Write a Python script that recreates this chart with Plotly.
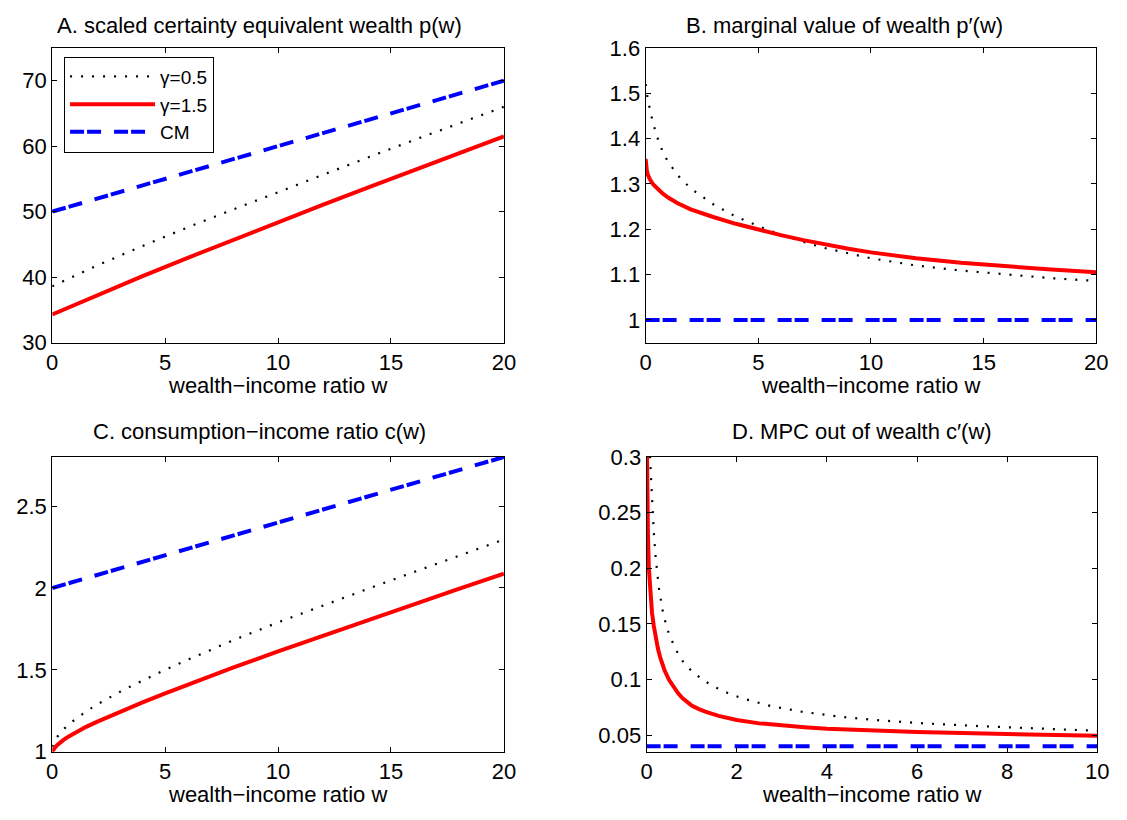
import plotly.graph_objects as go

# ---------------- data ----------------
# Panel A: scaled certainty equivalent wealth p(w)
wA = [0, 2, 4, 6, 8, 10, 12, 14, 16, 18, 20]
pA_g05 = [38.6, 41.8, 44.75, 47.6, 50.3, 53.0, 55.7, 58.3, 60.9, 63.4, 66.0]
pA_g15 = [34.3, 37.3, 40.15, 42.95, 45.7, 48.4, 51.05, 53.7, 56.3, 58.9, 61.5]
wA_cm = [0, 20]
pA_cm = [50, 70]

# Panel B: marginal value of wealth p'(w)
wB_g05 = [0, 0.1, 0.3, 0.5, 0.75, 1.0, 1.5, 2.0, 3.0, 4.0, 5, 6, 7, 8, 10, 12, 14, 16, 18, 20]
pB_g05 = [1.52, 1.485, 1.44, 1.405, 1.372, 1.348, 1.315, 1.29, 1.255, 1.228, 1.207,
          1.188, 1.172, 1.158, 1.136, 1.12, 1.109, 1.10, 1.092, 1.086]
wB_g15 = [0, 0.01, 0.03, 0.06, 0.1, 0.2, 0.35, 0.5, 0.75, 1.0, 1.4, 2.0, 2.5, 3.0, 4.0,
          5, 6, 7, 8, 9, 10, 12, 14, 16, 18, 20]
pB_g15 = [1.355, 1.345, 1.335, 1.327, 1.32, 1.309, 1.298, 1.29, 1.279, 1.27, 1.258, 1.244,
          1.235, 1.227, 1.212, 1.199, 1.187, 1.176, 1.166, 1.157, 1.149, 1.136, 1.126,
          1.118, 1.111, 1.105]
wB_cm = [0, 20]
pB_cm = [1.0, 1.0]

# Panel C: consumption-income ratio c(w)
wC_g05 = [0, 0.1, 0.2, 0.35, 0.5, 0.78, 1, 1.5, 2, 2.6, 3, 3.6, 4, 4.8, 5.8, 7, 8, 10,
          12, 14, 16, 18, 20]
cC_g05 = [1.03, 1.06, 1.087, 1.114, 1.137, 1.173, 1.197, 1.246, 1.29, 1.337, 1.366, 1.408,
          1.435, 1.487, 1.55, 1.622, 1.68, 1.79, 1.894, 1.996, 2.097, 2.197, 2.296]
wC_g15 = [0, 0.02, 0.05, 0.1, 0.2, 0.3, 0.5, 0.75, 1, 1.5, 2, 3, 4, 5, 6, 8, 10, 12, 14,
          16, 18, 20]
cC_g15 = [1.0, 1.006, 1.013, 1.022, 1.038, 1.05, 1.072, 1.095, 1.115, 1.152, 1.184, 1.244,
          1.301, 1.356, 1.409, 1.513, 1.613, 1.71, 1.806, 1.901, 1.995, 2.088]
wC_cm = [0, 20]
cC_cm = [2.0, 2.8]

# Panel D: MPC out of wealth c'(w)
wD_g05 = [0, 0.06, 0.09, 0.12, 0.16, 0.2, 0.27, 0.35, 0.45, 0.63, 0.8, 1.0, 1.25, 1.5,
          1.8, 2.1, 2.74, 3.47, 4.35, 5.2, 6.16, 7.4, 8.6, 10]
dD_g05 = [0.36, 0.31, 0.29, 0.26, 0.232, 0.21, 0.183, 0.163, 0.146, 0.128, 0.1165, 0.1075,
          0.0995, 0.0935, 0.0878, 0.0833, 0.0762, 0.0708, 0.0662, 0.0631, 0.0605, 0.058,
          0.0559, 0.0538]
wD_g15 = [0, 0.01, 0.02, 0.03, 0.05, 0.08, 0.12, 0.16, 0.2, 0.25, 0.3, 0.4, 0.5, 0.6, 0.7,
          0.8, 0.9, 1.0, 1.15, 1.3, 1.6, 2.0, 2.5, 3.0, 3.5, 4, 5, 6, 7, 8, 9, 10]
dD_g15 = [0.33, 0.28, 0.25, 0.23, 0.20, 0.177, 0.16, 0.148, 0.138, 0.128, 0.12, 0.108,
          0.0995, 0.093, 0.0875, 0.083, 0.0795, 0.0765, 0.0735, 0.071, 0.0672, 0.0635,
          0.0605, 0.0585, 0.057, 0.0557, 0.054, 0.0528, 0.0518, 0.0508, 0.05, 0.0493]
wD_cm = [0, 10]
dD_cm = [0.04, 0.04]

labels = ["γ=0.5", "γ=1.5", "CM"]
titles = ["A. scaled certainty equivalent wealth p(w)",
          "B. marginal value of wealth p′(w)",
          "C. consumption−income ratio c(w)",
          "D. MPC out of wealth c′(w)"]
xlabel = "wealth−income ratio w"

# ---------------- geometry ----------------
W, H = 1127, 820


def fx(X):
    return X / W


def fy(Y):
    return 1 - Y / H


FONT = "Liberation Sans, Arial, Helvetica, sans-serif"
sty_g05 = dict(color="black", width=2.2, dash="2px,9px")
sty_g15 = dict(color="#ff0000", width=4)
sty_cm = dict(color="#0000ff", width=4, dash="14px,3px,14px,13px")

fig = go.Figure()
panels = [
    ("x", "y", wA, pA_g05, wA, pA_g15, wA_cm, pA_cm),
    ("x2", "y2", wB_g05, pB_g05, wB_g15, pB_g15, wB_cm, pB_cm),
    ("x3", "y3", wC_g05, cC_g05, wC_g15, cC_g15, wC_cm, cC_cm),
    ("x4", "y4", wD_g05, dD_g05, wD_g15, dD_g15, wD_cm, dD_cm),
]
for i, (xa, ya, x1, y1, x2, y2, x3, y3) in enumerate(panels):
    show = i == 0
    fig.add_trace(go.Scatter(x=x1, y=y1, mode="lines", line=sty_g05, name=labels[0],
                             showlegend=show, xaxis=xa, yaxis=ya))
    fig.add_trace(go.Scatter(x=x2, y=y2, mode="lines", line=sty_g15, name=labels[1],
                             showlegend=show, xaxis=xa, yaxis=ya))
    fig.add_trace(go.Scatter(x=x3, y=y3, mode="lines", line=sty_cm, name=labels[2],
                             showlegend=show, xaxis=xa, yaxis=ya))

ax_common = dict(showline=True, linecolor="black", linewidth=1, mirror="allticks",
                 ticks="inside", ticklen=5, tickcolor="black", tickwidth=1,
                 showgrid=False, zeroline=False,
                 tickfont=dict(family=FONT, size=22, color="black"))

left_x = [fx(47), fx(506)]
right_x = [fx(650), fx(1108)]
top_y = [fy(341), fy(37)]
bot_y = [fy(763), fy(459)]

fig.update_layout(
    width=W, height=H, autosize=False,
    margin=dict(l=0, r=0, t=0, b=0),
    paper_bgcolor="white", plot_bgcolor="white",
    font=dict(family=FONT, size=22, color="black"),
    xaxis=dict(domain=left_x, anchor="y", range=[0, 20], tickvals=[0, 5, 10, 15, 20],
               **ax_common),
    yaxis=dict(domain=top_y, anchor="x", range=[30, 75], tickvals=[30, 40, 50, 60, 70],
               **ax_common),
    xaxis2=dict(domain=right_x, anchor="y2", range=[0, 20], tickvals=[0, 5, 10, 15, 20],
                **ax_common),
    yaxis2=dict(domain=top_y, anchor="x2", range=[0.95, 1.6],
                tickvals=[1, 1.1, 1.2, 1.3, 1.4, 1.5, 1.6],
                ticktext=["1", "1.1", "1.2", "1.3", "1.4", "1.5", "1.6"], **ax_common),
    xaxis3=dict(domain=left_x, anchor="y3", range=[0, 20], tickvals=[0, 5, 10, 15, 20],
                **ax_common),
    yaxis3=dict(domain=bot_y, anchor="x3", range=[1, 2.8], tickvals=[1, 1.5, 2, 2.5],
                ticktext=["1", "1.5", "2", "2.5"], **ax_common),
    xaxis4=dict(domain=[fx(651), fx(1109)], anchor="y4", range=[0, 10],
                tickvals=[0, 2, 4, 6, 8, 10], **ax_common),
    yaxis4=dict(domain=bot_y, anchor="x4", range=[0.035, 0.3],
                tickvals=[0.05, 0.1, 0.15, 0.2, 0.25, 0.3],
                ticktext=["0.05", "0.1", "0.15", "0.2", "0.25", "0.3"], **ax_common),
    legend=dict(x=fx(59), y=fy(46), xanchor="left", yanchor="top",
                bgcolor="white", bordercolor="black", borderwidth=1,
                font=dict(family=FONT, size=19, color="black"),
                tracegroupgap=0, itemwidth=85),
    showlegend=True,
)

title_pos = [(258, 14), (852, 14), (258, 433), (870, 433)]
for t, (px, py) in zip(titles, title_pos):
    fig.add_annotation(text=t, x=fx(px), y=fy(py), xref="paper", yref="paper",
                       xanchor="center", yanchor="middle", showarrow=False,
                       font=dict(family=FONT, size=22, color="black"))
xlab_pos = [(276, 385), (879, 385), (276, 807), (880, 807)]
for (px, py) in xlab_pos:
    fig.add_annotation(text=xlabel, x=fx(px), y=fy(py), xref="paper", yref="paper",
                       xanchor="center", yanchor="middle", showarrow=False,
                       font=dict(family=FONT, size=22, color="black"))

fig.write_html(
    "out.html",
    config={"displayModeBar": False},
    post_script="document.body.style.margin='0px';document.body.style.overflow='hidden';",
)
